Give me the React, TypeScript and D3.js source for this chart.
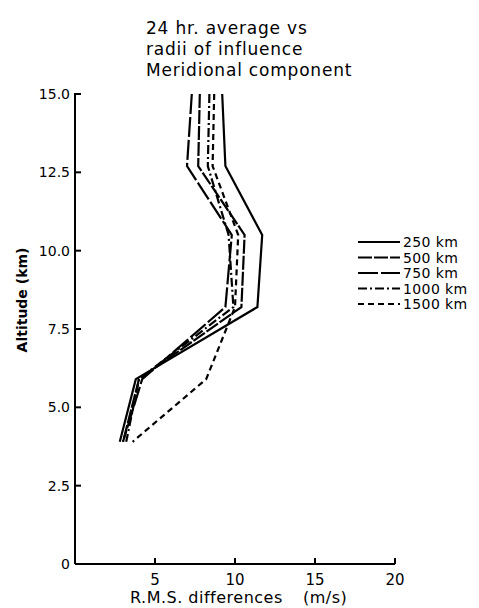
import React from "react";
import * as d3 from "d3";

const altitudes = [15.0, 12.7, 10.5, 8.2, 5.9, 3.9];
const series = [
  { name: "250 km", values: [9.2, 9.4, 11.7, 11.4, 3.8, 2.8], dash: "none" },
  { name: "500 km", values: [7.8, 7.7, 10.6, 10.4, 4.0, 3.0], dash: "14 2" },
  { name: "750 km", values: [7.3, 7.0, 9.8, 9.4, 4.2, 3.0], dash: "20 3" },
  { name: "1000 km", values: [8.4, 8.3, 9.6, 9.9, 4.0, 3.2], dash: "9 3 2 3" },
  { name: "1500 km", values: [8.7, 8.6, 10.2, 10.0, 8.2, 3.6], dash: "6 4" },
];
const xTicks = [5, 10, 15, 20];
const yTicks = [0, 2.5, 5.0, 7.5, 10.0, 12.5, 15.0];
const yTickLabels = ["0", "2.5", "5.0", "7.5", "10.0", "12.5", "15.0"];
const titleLines = ["24 hr. average vs", "radii of influence", "Meridional component"];

export default function App() {
  const W = 479, H = 608;
  const x = d3.scaleLinear().domain([0, 20]).range([75, 395]);
  const y = d3.scaleLinear().domain([0, 15]).range([564, 94]);
  const line = d3.line<[number, number]>().x(d => x(d[0])).y(d => y(d[1]));
  const font = "'DejaVu Sans', sans-serif";
  return (
    <svg width={W} height={H} style={{ position: "absolute", left: 0, top: 0, background: "#fff" }}>
      <g fontFamily={font} fill="#000">
        {titleLines.map((t, i) => (
          <text key={i} x={146} y={34 + i * 21} fontSize={17} letterSpacing={0.8}>{t}</text>
        ))}
      </g>
      {/* axes */}
      <line x1={x(0)} x2={x(0)} y1={y(15) - 1} y2={y(0)} stroke="#000" strokeWidth={2} />
      <line x1={x(0)} x2={x(20)} y1={y(0)} y2={y(0)} stroke="#000" strokeWidth={2} />
      {yTicks.map((t, i) => (
        <g key={i}>
          {t > 0 && <line x1={x(0)} x2={x(0) + 6} y1={y(t)} y2={y(t)} stroke="#000" strokeWidth={2} />}
          <text x={x(0) - 5} y={y(t) + 5} textAnchor="end" fontFamily={font} fontSize={14}>{yTickLabels[i]}</text>
        </g>
      ))}
      {xTicks.map((t, i) => (
        <g key={i}>
          <line x1={x(t)} x2={x(t)} y1={y(0)} y2={y(0) - 6} stroke="#000" strokeWidth={2} />
          <text x={x(t)} y={y(0) + 21} textAnchor="middle" fontFamily={font} fontSize={15}>{t}</text>
        </g>
      ))}
      <text x={0} y={0} transform={`translate(27,300) rotate(-90)`} textAnchor="middle" fontFamily={font} fontSize={14} fontWeight="bold">Altitude (km)</text>
      <text x={130} y={603} fontFamily={font} fontSize={16} letterSpacing={0.5}>R.M.S. differences</text>
      <text x={303} y={603} fontFamily={font} fontSize={16} letterSpacing={0.5}>(m/s)</text>
      {/* series */}
      {series.map((s, i) => (
        <path key={i} d={line(s.values.map((v, j) => [v, altitudes[j]]) as [number, number][]) || ""}
          fill="none" stroke="#000" strokeWidth={2.2} strokeDasharray={s.dash === "none" ? undefined : s.dash} />
      ))}
      {/* legend */}
      {series.map((s, i) => (
        <g key={i} transform={`translate(358,${242 + i * 15.5})`}>
          <line x1={0} x2={42} y1={0} y2={0} stroke="#000" strokeWidth={2.2} strokeDasharray={s.dash === "none" ? undefined : s.dash} />
          <text x={45} y={5} fontFamily={font} fontSize={14} letterSpacing={0.4}>{s.name}</text>
        </g>
      ))}
    </svg>
  );
}
